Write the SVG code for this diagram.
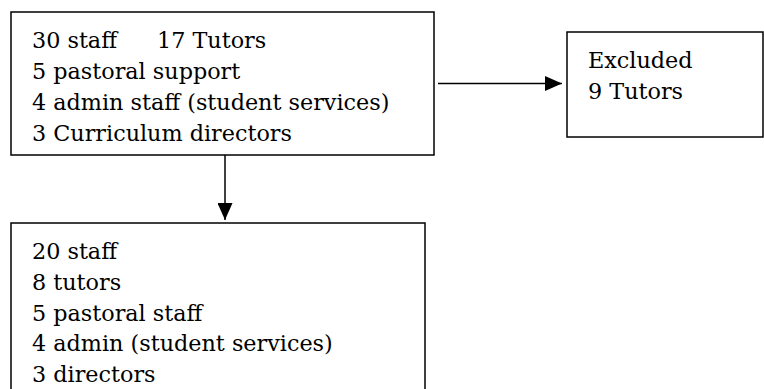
<svg xmlns="http://www.w3.org/2000/svg" width="764" height="389" viewBox="0 0 764 389">
<defs>
<style>
.box{fill:#fff;stroke:#000;stroke-width:1.5}
.t{font-family:"DejaVu Serif","Liberation Serif",serif;font-size:22.3px;fill:#000}
.c{stroke:#000;stroke-width:1.5;fill:none}
</style>
<marker id="ah" viewBox="0 0 17 15" refX="17" refY="7.5" markerWidth="17" markerHeight="15" markerUnits="userSpaceOnUse" orient="auto">
<path d="M0,0 L17,7.5 L0,15 Z" fill="#000"/>
</marker>
</defs>
<rect width="764" height="389" fill="#fff"/>
<g id="node-staff30">
<rect class="box" x="11" y="12" width="423" height="143"/>
<text class="t" x="32" y="48">30 staff</text>
<text class="t" x="157" y="48">17 Tutors</text>
<text class="t" x="32" y="79">5 pastoral support</text>
<text class="t" x="32" y="110">4 admin staff (student services)</text>
<text class="t" x="32" y="141">3 Curriculum directors</text>
</g>
<g id="node-excluded">
<rect class="box" x="567" y="32" width="196" height="105"/>
<text class="t" x="588" y="68">Excluded</text>
<text class="t" x="588" y="99">9 Tutors</text>
</g>
<g id="node-staff20">
<rect class="box" x="11" y="223" width="414" height="175"/>
<text class="t" x="32" y="259">20 staff</text>
<text class="t" x="32" y="290">8 tutors</text>
<text class="t" x="32" y="320.5">5 pastoral staff</text>
<text class="t" x="32" y="351">4 admin (student services)</text>
<text class="t" x="32" y="382">3 directors</text>
</g>
<g id="connectors">
<line class="c" x1="438" y1="83.5" x2="562" y2="83.5" marker-end="url(#ah)"/>
<line class="c" x1="225" y1="155" x2="225" y2="220" marker-end="url(#ah)"/>
</g>
</svg>
